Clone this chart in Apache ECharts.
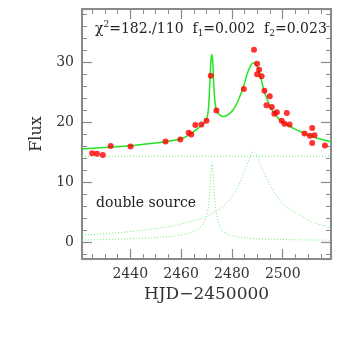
<!DOCTYPE html>
<html>
<head>
<meta charset="utf-8">
<script src="https://cdn.jsdelivr.net/npm/echarts@6/dist/echarts.min.js"></script>
<style>
  html, body { margin: 0; padding: 0; background: #fff; }
  #chart { width: 338px; height: 343px; }
</style>
</head>
<body>
<div id="chart"></div>
<script>
// observed fluxes [HJD-2450000, flux]
const obsPoints = [
  [2425.0, 14.8], [2426.9, 14.7], [2429.2, 14.5], [2432.3, 16.0], [2440.1, 15.9],
  [2453.9, 16.75], [2459.7, 17.1], [2463.0, 18.2], [2464.0, 17.9], [2465.6, 19.5],
  [2468.0, 19.6], [2470.0, 20.2], [2471.7, 27.7], [2473.9, 21.9], [2484.7, 25.5],
  [2488.7, 32.0], [2489.9, 29.7], [2490.7, 28.7], [2489.9, 27.95], [2491.7, 27.6],
  [2492.8, 25.2], [2494.9, 24.3], [2493.6, 22.8], [2495.7, 22.5], [2496.7, 21.35],
  [2497.7, 21.6], [2501.6, 21.5], [2499.6, 20.2], [2500.7, 19.7], [2502.7, 19.6],
  [2508.6, 18.1], [2510.7, 17.7], [2511.6, 19.0], [2512.5, 17.8], [2511.6, 16.5],
  [2516.6, 16.1]
];

// model: total light curve
const modelTotal = [
  [2421, 15.5], [2430, 15.75], [2440, 16.05], [2450, 16.5], [2455, 16.8], [2460, 17.2],
  [2463, 17.8], [2465.6, 18.6], [2468.3, 19.5], [2469.5, 20.1], [2470.3, 20.9],
  [2470.8, 22.3], [2471.2, 25.5], [2471.6, 29.2], [2471.9, 30.9], [2472.1, 31.2],
  [2472.35, 30.6], [2472.6, 28.8], [2472.9, 25.8], [2473.3, 23.5], [2473.8, 22.2],
  [2474.9, 21.3], [2476.6, 20.9], [2478.8, 21.3], [2480.8, 22.2], [2482.8, 23.9],
  [2484.7, 26.1], [2486.1, 28.1], [2487.4, 29.4], [2488.4, 29.8], [2489.4, 29.6],
  [2490.3, 28.9], [2491.3, 27.5], [2492.6, 25.3], [2494, 23.6], [2495.3, 22.3],
  [2497.3, 21.1], [2499.2, 20.2], [2501.9, 19.5], [2504.5, 18.9], [2508.5, 18.1],
  [2513.7, 17.3], [2519, 16.7]
];

// baseline (blend) level
const baseLine = [[2421, 14.3], [2519, 14.3]];

// source 1 (narrow)
const source1 = [
  [2421, 0.33], [2434.2, 0.5], [2447.3, 0.7], [2457.9, 1.05], [2464.5, 1.7],
  [2467.5, 2.5], [2469.3, 3.6], [2470.4, 5.0], [2471.0, 7.2], [2471.5, 10.2],
  [2471.85, 12.4], [2472.1, 13.2], [2472.35, 12.4], [2472.7, 10.2], [2473.2, 7.2],
  [2473.8, 5.0], [2474.9, 3.0], [2476.3, 1.9], [2478.5, 1.3], [2481.6, 0.95],
  [2487, 0.65], [2493.4, 0.5], [2505, 0.4], [2519, 0.33]
];

// source 2 (broad)
const source2 = [
  [2421, 1.17], [2434.2, 1.55], [2447.3, 2.1], [2457.9, 2.8], [2465.8, 3.7],
  [2471.1, 4.5], [2476.3, 5.9], [2479, 7.0], [2480.9, 8.1], [2482.7, 9.5],
  [2484.2, 10.9], [2485.7, 12.6], [2486.9, 13.9], [2487.9, 14.8], [2488.6, 15.1],
  [2489.3, 14.8], [2490.1, 14.2], [2491.4, 12.8], [2492.8, 11.4], [2494.4, 10.0],
  [2496.1, 8.7], [2498, 7.5], [2500, 6.4], [2503, 5.4], [2506.6, 4.5],
  [2510, 3.7], [2513.2, 3.1], [2519, 2.45]
];

const xRange = [2421, 2519];
const yRange = [-2.8, 38.8];

const serif = 'DejaVu Serif';
const frameColor = '#8a8a8a';
const green = '#22e622';
const dotGreen = '#6ff06f';

function frameAxis(extra) {
  return Object.assign({
    type: 'value',
    axisLine: { show: true, onZero: false, lineStyle: { color: frameColor, width: 2 } },
    axisTick: { show: true, inside: true, length: 10, lineStyle: { color: frameColor, width: 1.2 } },
    minorTick: { show: true, length: 5, lineStyle: { color: frameColor, width: 1 } },
    splitLine: { show: false },
    axisLabel: { show: false }
  }, extra);
}

const tickLabel = {
  show: true,
  color: '#333',
  fontFamily: serif,
  fontSize: 14,
  margin: 8,
  showMinLabel: false,
  showMaxLabel: false,
  formatter: v => String(v)
};

const chart = echarts.init(document.getElementById('chart'), null, { renderer: 'canvas' });

chart.setOption({
  backgroundColor: '#fff',
  animation: false,
  grid: { left: 82, right: 7, top: 9, bottom: 84 },
  xAxis: [
    frameAxis({
      position: 'bottom', min: xRange[0], max: xRange[1], splitNumber: 5,
      minorTick: { show: true, splitNumber: 4, length: 5, lineStyle: { color: frameColor, width: 1 } },
      axisLabel: tickLabel,
      name: 'HJD\u22122450000',
      nameLocation: 'middle',
      nameGap: 26,
      nameTextStyle: { color: '#333', fontFamily: serif, fontSize: 17 }
    }),
    frameAxis({
      position: 'top', min: xRange[0], max: xRange[1], splitNumber: 5,
      minorTick: { show: true, splitNumber: 4, length: 5, lineStyle: { color: frameColor, width: 1 } }
    })
  ],
  yAxis: [
    frameAxis({
      position: 'left', min: yRange[0], max: yRange[1], splitNumber: 4,
      minorTick: { show: true, splitNumber: 5, length: 5, lineStyle: { color: frameColor, width: 1 } },
      axisLabel: tickLabel,
      name: 'Flux',
      nameLocation: 'middle',
      nameGap: 34,
      nameTextStyle: { color: '#333', fontFamily: serif, fontSize: 16 }
    }),
    frameAxis({
      position: 'right', min: yRange[0], max: yRange[1], splitNumber: 4,
      minorTick: { show: true, splitNumber: 5, length: 5, lineStyle: { color: frameColor, width: 1 } }
    })
  ],
  graphic: [
    {
      type: 'text', left: 95, top: 20, z: 10,
      style: {
        text: '{m|\u03c7}{sup|2}{m|=182./110  f}{sub|1}{m|=0.002  f}{sub|2}{m|=0.023}',
        rich: {
          m: { fill: '#222', fontFamily: serif, fontSize: 14, lineHeight: 18, verticalAlign: 'middle' },
          sup: { fill: '#222', fontFamily: serif, fontSize: 9, lineHeight: 9, verticalAlign: 'top' },
          sub: { fill: '#222', fontFamily: serif, fontSize: 9, lineHeight: 9, verticalAlign: 'bottom' }
        }
      }
    },
    {
      type: 'text', left: 96, top: 196, z: 10,
      style: { text: 'double source', fill: '#222', font: '14px "DejaVu Serif"' }
    }
  ],
  series: [
    {
      type: 'line', data: baseLine, showSymbol: false, silent: true,
      lineStyle: { color: dotGreen, width: 1, type: [1, 2] }
    },
    {
      type: 'line', data: source1, showSymbol: false, silent: true,
      smooth: 0.35,
      lineStyle: { color: dotGreen, width: 1, type: [1, 2] }
    },
    {
      type: 'line', data: source2, showSymbol: false, silent: true,
      smooth: 0.35,
      lineStyle: { color: dotGreen, width: 1, type: [1, 2] }
    },
    {
      type: 'line', data: modelTotal, showSymbol: false, silent: true,
      smooth: 0.35,
      lineStyle: { color: green, width: 1.5 }
    },
    {
      type: 'scatter', data: obsPoints, symbol: 'circle', symbolSize: 6, z: 5,
      itemStyle: { color: '#ff0000' }
    }
  ]
});
</script>
</body>
</html>
